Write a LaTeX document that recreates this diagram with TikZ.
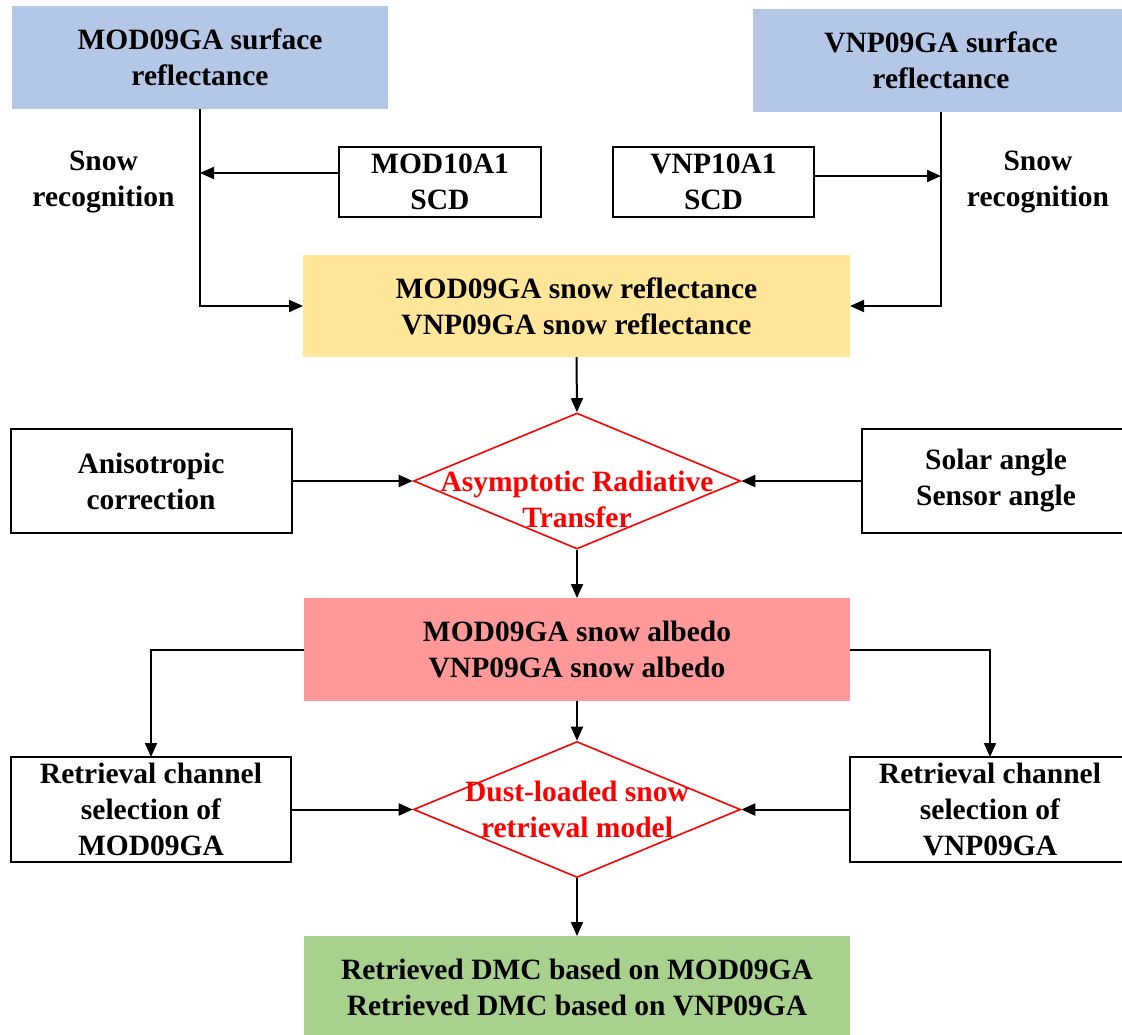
\documentclass[tikz,border=0pt]{standalone}
\usepackage{fontspec}
\setmainfont{Liberation Serif}[BoldFont={Liberation Serif Bold}]
\newfontfamily\timesbold{Liberation Serif Bold}
\usetikzlibrary{arrows.meta,shapes.geometric}
\definecolor{cblue}{RGB}{180,199,231}
\definecolor{cyellow}{RGB}{255,230,153}
\definecolor{cred}{RGB}{255,153,153}
\definecolor{cgreen}{RGB}{169,209,142}
\begin{document}
\begin{tikzpicture}[x=1pt,y=-1pt,
  font=\timesbold\fontsize{29.5}{36}\selectfont,
  base/.style={align=center,inner sep=0pt,outer sep=0pt},
  wbox/.style={base,draw,line width=2pt,fill=white},
  dia/.style={diamond,draw=red,line width=1.6pt,inner sep=0pt,minimum width=327pt,minimum height=136pt},
  rtext/.style={base,text=red},
  arr/.style={line width=2pt,-{Triangle[length=14pt,width=12pt]}}]
\useasboundingbox (0,0) rectangle (1122,1034);
% top sources
\node[base,fill=cblue,minimum width=376pt,minimum height=103pt] (mods) at (200,57.5) {MOD09GA surface\\reflectance};
\node[base,fill=cblue,minimum width=376pt,minimum height=103pt] (vnps) at (941,60.5) {VNP09GA surface\\reflectance};
\node[wbox,minimum width=202pt,minimum height=70pt] (mod10) at (440,182) {MOD10A1\\SCD};
\node[wbox,minimum width=201pt,minimum height=70pt] (vnp10) at (713.5,182) {VNP10A1\\SCD};
\node[base] (snowL) at (103.5,182) {Snow\\recognition};
\node[base] (snowR) at (1038,182) {Snow\\recognition};
% snow reflectance
\node[base,fill=cyellow,minimum width=547pt,minimum height=102pt] (yel) at (576.5,306) {MOD09GA snow reflectance\\VNP09GA snow reflectance};
% ART
\node[dia] (dia1) at (577,481) {};
\node[rtext] (dia1t) at (577,499) {Asymptotic Radiative\\Transfer};
\node[wbox,minimum width=281pt,minimum height=104pt] (aniso) at (151,481) {Anisotropic\\correction};
\node[wbox,minimum width=268pt,minimum height=104pt] (solar) at (996,481) {Solar angle\\Sensor angle};
% albedo
\node[base,fill=cred,minimum width=546pt,minimum height=103pt] (red) at (577,649.5) {MOD09GA snow albedo\\VNP09GA snow albedo};
% retrieval
\node[dia] (dia2) at (577,809.5) {};
\node[rtext] (dia2t) at (577,809.5) {Dust-loaded snow\\retrieval model};
\node[wbox,minimum width=280pt,minimum height=105pt] (retL) at (151,809.5) {Retrieval channel\\selection of\\MOD09GA};
\node[wbox,minimum width=280pt,minimum height=105pt] (retR) at (990,809.5) {Retrieval channel\\selection of\\VNP09GA};
% result
\node[base,fill=cgreen,minimum width=546pt,minimum height=102pt] (green) at (577,987) {Retrieved DMC based on MOD09GA\\Retrieved DMC based on VNP09GA};
% connectors
\draw[arr] ([yshift=9pt]mod10.west) coordinate (a) -- (a -| mods.south);
\draw[arr] ([yshift=6pt]vnp10.east) coordinate (b) -- (b -| vnps.south);
\draw[arr] (mods.south) |- (yel.west);
\draw[arr] (vnps.south) |- (yel.east);
\draw[arr] (yel.south) -- (dia1.north);
\draw[arr] (aniso.east) -- (dia1.west);
\draw[arr] (solar.west) -- (dia1.east);
\draw[arr] (dia1.south) -- (red.north);
\draw[arr] (red.west) -| (retL.north);
\draw[arr] (red.east) -| (retR.north);
\draw[arr] (red.south) -- (dia2.north);
\draw[arr] (retL.east) -- (dia2.west);
\draw[arr] (retR.west) -- (dia2.east);
\draw[arr] (dia2.south) -- (green.north);
\end{tikzpicture}
\end{document}
